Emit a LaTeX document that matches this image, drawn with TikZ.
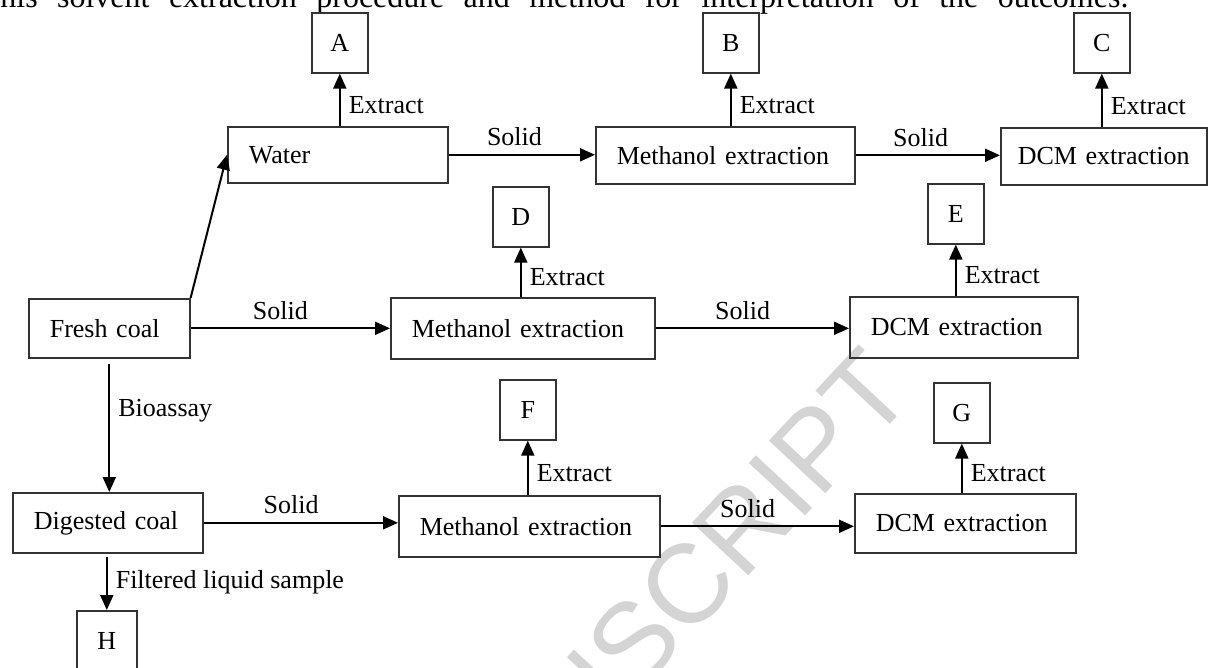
\documentclass[tikz,border=0pt]{standalone}
\usepackage{fontspec}
\setmainfont{Liberation Serif}
\newfontfamily\wmfont{Liberation Sans}
\usetikzlibrary{arrows.meta}

\begin{document}
\begin{tikzpicture}[x=0.5pt, y=-0.5pt, font=\fontsize{13pt}{15.6pt}\selectfont,
  box/.style={draw=black!80, line width=0.8pt, anchor=north west, align=left, inner xsep=10.5pt, inner ysep=0pt},
  lbl/.style={draw=black!80, line width=0.8pt, anchor=north west, minimum width=28pt, minimum height=30pt, inner sep=0pt},
  arr/.style={line width=1pt, -{Triangle[length=7.5pt,width=6.5pt]}},
  note/.style={inner sep=4pt}]
\useasboundingbox (0,0) rectangle (1208,668);
\node[font=\fontsize{56pt}{60pt}\selectfont\wmfont, text=black!17, rotate=47, anchor=mid east, inner sep=0pt] (wm) at (914,392) {ACCEPTED MANUSCRIPT};
\node[anchor=base west, inner sep=0pt, font=\fontsize{16pt}{18pt}\selectfont] (topline) at (0,8) {\makebox[564pt][s]{his solvent extraction procedure and method for interpretation of the outcomes.}};

\node[box, text width=89pt, minimum height=28pt] (water) at (227,126) {Water};
\node[box, text width=108.5pt, minimum height=28.5pt] (methA) at (595,126) {Methanol extraction};
\node[box, text width=86pt, inner xsep=8.5pt, minimum height=28.5pt] (dcmA) at (1000,127) {DCM extraction};
\node[box, text width=59.5pt, minimum height=29.5pt] (fresh) at (28,298) {Fresh coal};
\node[box, text width=111pt, minimum height=30.5pt] (methB) at (390,297) {Methanol extraction};
\node[box, text width=93pt, minimum height=30.5pt] (dcmB) at (849,296) {DCM extraction};
\node[box, text width=74pt, minimum height=30pt] (digested) at (12,492) {Digested coal};
\node[box, text width=109.5pt, minimum height=30.5pt] (methC) at (398,495) {Methanol extraction};
\node[box, text width=89.5pt, minimum height=29.5pt] (dcmC) at (854,493) {DCM extraction};

\node[lbl] (A) at (311,12) {A};
\node[lbl] (B) at (702,12) {B};
\node[lbl] (C) at (1073,12) {C};
\node[lbl] (D) at (492,186) {D};
\node[lbl] (E) at (927,183) {E};
\node[lbl] (F) at (499,379) {F};
\node[lbl] (G) at (933,382) {G};
\node[lbl, minimum width=30pt] (H) at (76,610) {H};

\draw[arr] (water.north -| A.south) -- (A.south) node[note, pos=0.4, right] {Extract};
\draw[arr] (methA.north -| B.south) -- (B.south) node[note, pos=0.4, right] {Extract};
\draw[arr] (dcmA.north -| C.south) -- (C.south) node[note, pos=0.4, right] {Extract};
\draw[arr] (methB.north -| D.south) -- (D.south) node[note, pos=0.4, right] {Extract};
\draw[arr] (dcmB.north -| E.south) -- (E.south) node[note, pos=0.4, right] {Extract};
\draw[arr] (methC.north -| F.south) -- (F.south) node[note, pos=0.4, right] {Extract};
\draw[arr] (dcmC.north -| G.south) -- (G.south) node[note, pos=0.4, right] {Extract};

\draw[arr] (water.east) -- (water.east -| methA.west) node[note, pos=0.45, above] {Solid};
\draw[arr] (methA.east) -- (methA.east -| dcmA.west) node[note, pos=0.45, above] {Solid};
\draw[arr] (fresh.east) -- (fresh.east -| methB.west) node[note, pos=0.45, above] {Solid};
\draw[arr] (methB.east) -- (methB.east -| dcmB.west) node[note, pos=0.45, above] {Solid};
\draw[arr] (digested.east) -- (digested.east -| methC.west) node[note, pos=0.45, above] {Solid};
\draw[arr] (methC.east) -- (methC.east -| dcmC.west) node[note, pos=0.45, above] {Solid};

\draw[arr] (fresh.north east) -- (water.west);
\draw[arr, shorten <=2.5pt] (fresh.south) -- (fresh.south |- digested.north) node[note, pos=0.39, right] {Bioassay};
\draw[arr, shorten <=1.5pt] (digested.south -| H.north) -- (H.north) node[note, midway, right] {Filtered liquid sample};
\end{tikzpicture}
\end{document}
